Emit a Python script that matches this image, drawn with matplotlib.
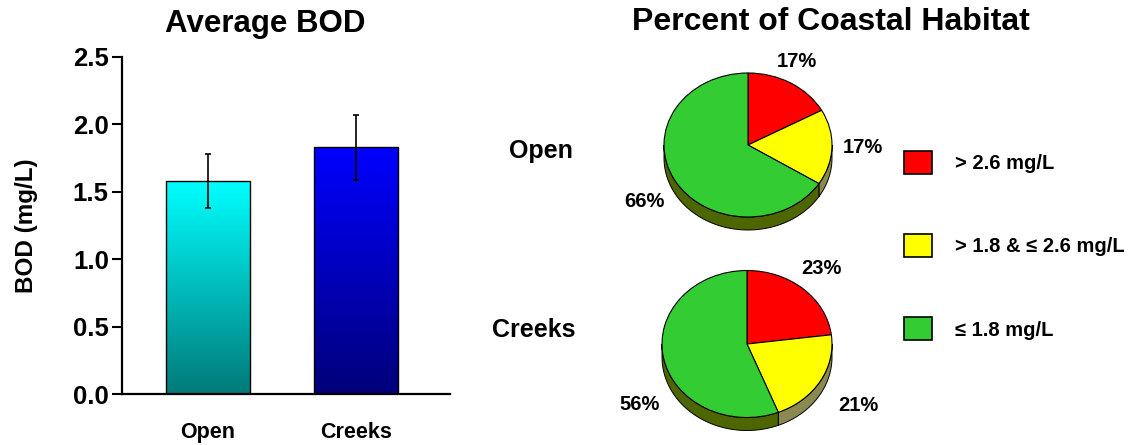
import numpy as np
import matplotlib
matplotlib.use("Agg")
import matplotlib.pyplot as plt
from matplotlib.colors import LinearSegmentedColormap
from matplotlib.patches import Patch

plt.rcParams['font.family'] = ['Liberation Sans', 'DejaVu Sans']
plt.rcParams['font.weight'] = 'bold'

# --- data ---
sites = ["Open", "Creeks"]
bod_mean = [1.58, 1.83]
bod_err = [0.20, 0.24]
bar_top_colors = ["#00ffff", "#0000ff"]
bar_bottom_colors = ["#007a78", "#00007a"]

classes = ["> 2.6 mg/L", "> 1.8 & \u2264 2.6 mg/L", "\u2264 1.8 mg/L"]
class_colors = ["#ff0000", "#ffff00", "#33cc33"]
side_colors = ["#800000", "#8a8a50", "#4d6600"]
pct_open = [17, 17, 66]
pct_creeks = [23, 21, 56]

W, H = 1135, 445
fig = plt.figure(figsize=(W / 100, H / 100), dpi=100)

# ---------------- bar chart ----------------
ax = fig.add_axes([122 / W, 1 - 394 / H, (450 - 122) / W, (394 - 57) / H])
x = np.arange(len(sites))
bars = ax.bar(x, bod_mean, width=0.57, facecolor='none', edgecolor='black',
              linewidth=1.0, zorder=3)
grad = np.linspace(0, 1, 256).reshape(-1, 1)
for b, c_top, c_bot in zip(bars, bar_top_colors, bar_bottom_colors):
    cmap = LinearSegmentedColormap.from_list("g", [c_bot, c_top])
    bx, bw, bh = b.get_x(), b.get_width(), b.get_height()
    im = ax.imshow(grad, extent=[bx, bx + bw, 0, bh], origin='lower',
                   aspect='auto', cmap=cmap, zorder=2)
    im.set_clip_path(b)
ax.errorbar(x, bod_mean, yerr=bod_err, fmt='none', ecolor='black',
            elinewidth=1.2, capsize=2.5, capthick=1.2, zorder=4)

ax.set_xlim(-0.58, 1.635)
ax.set_ylim(0, 2.5)
ax.set_yticks([0, 0.5, 1.0, 1.5, 2.0, 2.5])
ax.set_yticklabels([f"{v:.1f}" for v in [0, 0.5, 1.0, 1.5, 2.0, 2.5]])
ax.set_xticks(x)
ax.set_xticklabels(sites)
ax.spines['top'].set_visible(False)
ax.spines['right'].set_visible(False)
ax.spines['left'].set_linewidth(1.6)
ax.spines['bottom'].set_linewidth(1.6)
ax.tick_params(axis='y', length=7.5, width=1.5, labelsize=18.5, pad=2)
ax.tick_params(axis='x', length=0, labelsize=15.5, pad=20)
for lab in ax.get_yticklabels() + ax.get_xticklabels():
    lab.set_fontweight('bold')
ax.set_ylabel("BOD (mg/L)", fontsize=17.5, fontweight='bold', labelpad=25)
fig.text(265 / W, 1 - 24 / H, "Average BOD", fontsize=22.5, fontweight='bold',
         ha='center', va='center')

# ---------------- 3D-looking pies ----------------
def draw_pie(cx, cy, rx, ry, pcts, label_pos):
    lim = 1.7
    pax = fig.add_axes([(cx - lim * rx) / W, (H - cy - lim * ry) / H,
                        2 * lim * rx / W, 2 * lim * ry / H])
    pax.set_facecolor('none')
    depth = 13 / ry
    # side walls, only the lower half of the rim is visible
    start = 0.0
    for p, sc in zip(pcts, side_colors):
        a, b = start, start + p * 3.6
        start = b
        lo, hi = max(a, 90), min(b, 270)
        if hi <= lo:
            continue
        t = np.radians(90 - np.linspace(lo, hi, 60))
        xs, ys = np.cos(t), np.sin(t)
        px = np.concatenate([xs, xs[::-1]])
        py = np.concatenate([ys, ys[::-1] - depth])
        pax.fill(px, py, facecolor=sc, edgecolor='black', linewidth=0.7, zorder=1)
    pax.pie(pcts, colors=class_colors, startangle=90, counterclock=False,
            wedgeprops=dict(edgecolor='black', linewidth=0.8, zorder=2))
    pax.set_aspect('auto')
    pax.set_xlim(-lim, lim)
    pax.set_ylim(-lim, lim)
    pax.axis('off')
    for p, (lx, ly) in zip(pcts, label_pos):
        pax.text(lx, ly, f"{p}%", fontsize=14.5, fontweight='bold',
                 ha='center', va='center')

draw_pie(748, 145, 84, 72, pct_open,
         [(0.58, 1.16), (1.37, -0.04), (-1.23, -0.78)])
draw_pie(747, 344, 85, 73.5, pct_creeks,
         [(0.88, 1.03), (1.31, -0.83), (-1.26, -0.82)])

fig.text(831 / W, 1 - 22 / H, "Percent of Coastal Habitat", fontsize=23,
         fontweight='bold', ha='center', va='center')
fig.text(541 / W, 1 - 151 / H, "Open", fontsize=18, fontweight='bold',
         ha='center', va='center')
fig.text(534 / W, 1 - 330 / H, "Creeks", fontsize=18, fontweight='bold',
         ha='center', va='center')

handles = [Patch(facecolor=c, edgecolor='black', linewidth=1.2) for c in class_colors]
fig.legend(handles, classes, loc='upper left', bbox_to_anchor=(904 / W, 1 - 151 / H),
           frameon=False, prop=dict(size=14.5, weight='bold'),
           handlelength=1.39, handleheight=1.39, labelspacing=2.98,
           handletextpad=1.14, borderaxespad=0, borderpad=0)

fig.savefig("out.png", dpi=100)
